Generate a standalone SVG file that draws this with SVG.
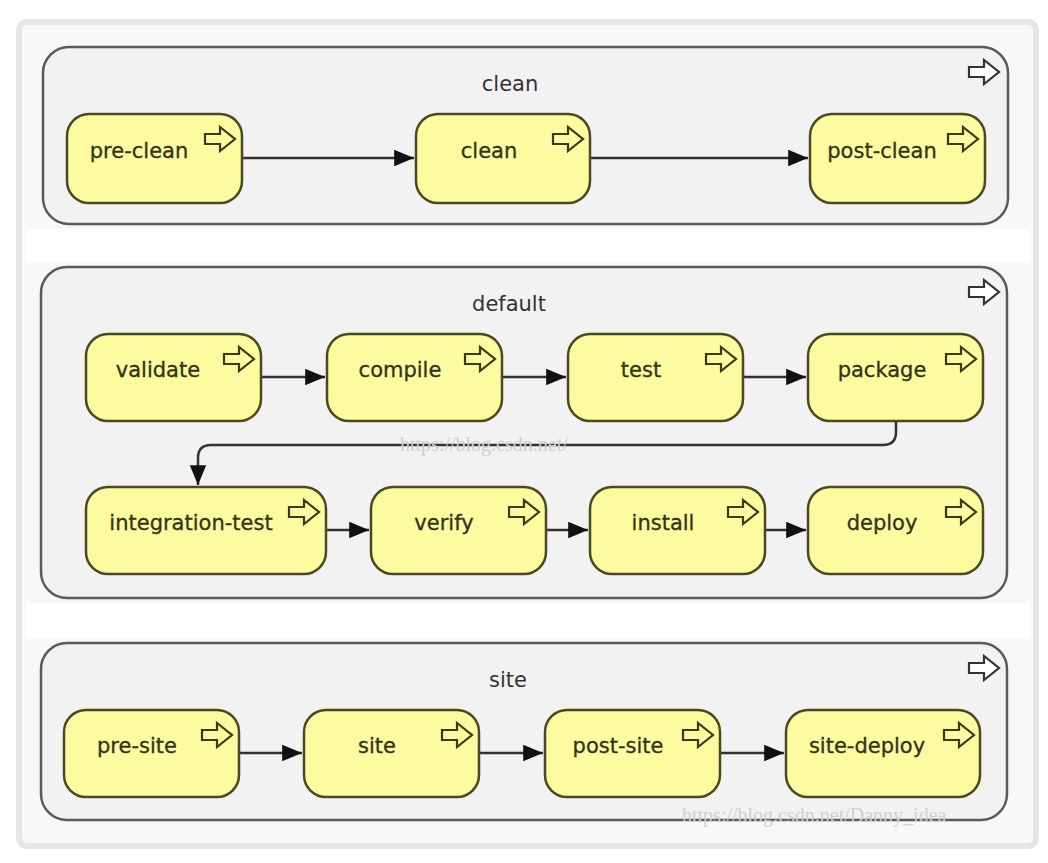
<svg xmlns="http://www.w3.org/2000/svg" width="1048" height="863" viewBox="0 0 1048 863">
<style>
.frame{fill:#f2f2f3;stroke:#5a5a5a;stroke-width:2.5}
.node{fill:#fcfb9f;stroke:#4a4a22;stroke-width:2.5}
.lbl{font-family:"DejaVu Sans",sans-serif;font-size:21px;fill:#33331a;text-anchor:middle;stroke:#33331a;stroke-width:0.3}
.ttl{font-family:"DejaVu Sans",sans-serif;font-size:21px;fill:#333;text-anchor:middle}
.icon{fill:none;stroke:#3a3a1c;stroke-width:2.2;stroke-linejoin:miter}
.cicon{fill:#fff;stroke:#333;stroke-width:2.2}
.edge{fill:none;stroke:#333;stroke-width:2.5}
.wm{font-family:"Liberation Serif",serif;font-size:20px;fill:#d0d0d0}
</style>
<defs>
<marker id="ah" viewBox="0 0 12 10" refX="12" refY="5" markerWidth="8" markerHeight="6.6" orient="auto" markerUnits="strokeWidth">
<path d="M0,0 L12,5 L0,10 Z" fill="#111"/>
</marker>
<path id="arr" d="M0,7 H15 V0 L30,12 L15,24 V17 H0 Z"/>
</defs>
<rect x="0" y="0" width="1048" height="863" fill="#ffffff"/>
<rect x="19" y="22" width="1017" height="824" rx="8" fill="#f8f8f8" stroke="#e6e6e6" stroke-width="6"/>
<rect x="26" y="229" width="1004" height="34" fill="#ffffff"/>
<rect x="26" y="603" width="1004" height="36" fill="#ffffff"/>

<g id="lifecycle-clean">
<rect class="frame" x="43" y="47" width="965" height="177" rx="26"/>
<text class="ttl" x="510" y="91">clean</text>
<use href="#arr" class="cicon" x="969" y="60"/>
</g>
<g id="lifecycle-default">
<rect class="frame" x="41" y="267" width="966" height="331" rx="26"/>
<text class="ttl" x="509" y="311">default</text>
<use href="#arr" class="cicon" x="969" y="280"/>
</g>
<g id="lifecycle-site">
<rect class="frame" x="41" y="643" width="966" height="177" rx="26"/>
<text class="ttl" x="508" y="687">site</text>
<use href="#arr" class="cicon" x="969" y="656"/>
</g>

<g id="connectors">
<path class="edge" d="M242,158 H414" marker-end="url(#ah)"/>
<path class="edge" d="M590,158 H808" marker-end="url(#ah)"/>
<path class="edge" d="M261,377 H325" marker-end="url(#ah)"/>
<path class="edge" d="M502,377 H566" marker-end="url(#ah)"/>
<path class="edge" d="M743,377 H806" marker-end="url(#ah)"/>
<path class="edge" d="M896,421 V432 Q896,445 883,445 H211 Q198,445 198,458 V485" marker-end="url(#ah)"/>
<path class="edge" d="M326,530 H369" marker-end="url(#ah)"/>
<path class="edge" d="M546,530 H588" marker-end="url(#ah)"/>
<path class="edge" d="M765,530 H806" marker-end="url(#ah)"/>
<path class="edge" d="M239,753 H302" marker-end="url(#ah)"/>
<path class="edge" d="M479,753 H543" marker-end="url(#ah)"/>
<path class="edge" d="M720,753 H784" marker-end="url(#ah)"/>
</g>

<g id="pre-clean"><rect class="node" x="67" y="114" width="175" height="89" rx="22"/><text class="lbl" x="139" y="158">pre-clean</text><use href="#arr" class="icon" x="205" y="127"/></g>
<g id="clean"><rect class="node" x="416" y="114" width="174" height="89" rx="22"/><text class="lbl" x="489" y="158">clean</text><use href="#arr" class="icon" x="553" y="127"/></g>
<g id="post-clean"><rect class="node" x="810" y="114" width="175" height="89" rx="22"/><text class="lbl" x="882" y="158">post-clean</text><use href="#arr" class="icon" x="948" y="127"/></g>

<g id="validate"><rect class="node" x="86" y="334" width="175" height="87" rx="22"/><text class="lbl" x="158" y="377">validate</text><use href="#arr" class="icon" x="224" y="347"/></g>
<g id="compile"><rect class="node" x="327" y="334" width="175" height="87" rx="22"/><text class="lbl" x="400" y="377">compile</text><use href="#arr" class="icon" x="465" y="347"/></g>
<g id="test"><rect class="node" x="568" y="334" width="175" height="87" rx="22"/><text class="lbl" x="641" y="377">test</text><use href="#arr" class="icon" x="706" y="347"/></g>
<g id="package"><rect class="node" x="808" y="334" width="175" height="87" rx="22"/><text class="lbl" x="882" y="377">package</text><use href="#arr" class="icon" x="946" y="347"/></g>

<g id="integration-test"><rect class="node" x="86" y="487" width="240" height="87" rx="22"/><text class="lbl" x="191" y="530">integration-test</text><use href="#arr" class="icon" x="289" y="500"/></g>
<g id="verify"><rect class="node" x="371" y="487" width="175" height="87" rx="22"/><text class="lbl" x="444" y="530">verify</text><use href="#arr" class="icon" x="509" y="500"/></g>
<g id="install"><rect class="node" x="590" y="487" width="175" height="87" rx="22"/><text class="lbl" x="663" y="530">install</text><use href="#arr" class="icon" x="728" y="500"/></g>
<g id="deploy"><rect class="node" x="808" y="487" width="175" height="87" rx="22"/><text class="lbl" x="882" y="530">deploy</text><use href="#arr" class="icon" x="946" y="500"/></g>

<g id="pre-site"><rect class="node" x="64" y="710" width="175" height="87" rx="22"/><text class="lbl" x="137" y="753">pre-site</text><use href="#arr" class="icon" x="202" y="723"/></g>
<g id="site"><rect class="node" x="304" y="710" width="175" height="87" rx="22"/><text class="lbl" x="377" y="753">site</text><use href="#arr" class="icon" x="442" y="723"/></g>
<g id="post-site"><rect class="node" x="545" y="710" width="175" height="87" rx="22"/><text class="lbl" x="618" y="753">post-site</text><use href="#arr" class="icon" x="683" y="723"/></g>
<g id="site-deploy"><rect class="node" x="786" y="710" width="194" height="87" rx="22"/><text class="lbl" x="867" y="753">site-deploy</text><use href="#arr" class="icon" x="944" y="723"/></g>

<text class="wm" x="400" y="451">https://blog.csdn.net/</text>
<text class="wm" x="682" y="822">https://blog.csdn.net/Danny_idea</text>
</svg>
